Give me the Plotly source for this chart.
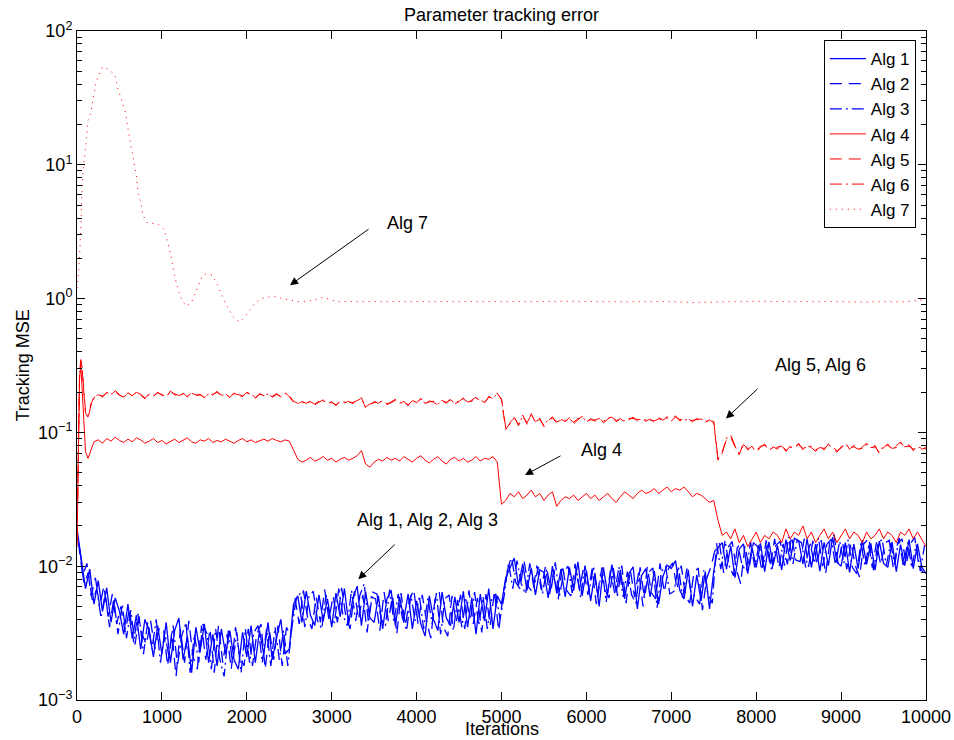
import math
import plotly.graph_objects as go

# ---------------------------------------------------------------- data
# Alg 1-3 (blue): tracking MSE sampled along the iterations
alg1_iters = list(range(0, 10001, 50))
alg1_mse = [
    0.019, 0.0110, 0.0068, 0.0095, 0.0052, 0.0078, 0.0046, 0.0069, 0.0038, 0.0058,
    0.0046, 0.0031, 0.0052, 0.0029, 0.0043, 0.0024, 0.0040, 0.0033, 0.0021, 0.0036,
    0.0022, 0.0038, 0.0019, 0.0033, 0.0041, 0.0020, 0.0030, 0.0016, 0.0035, 0.0023,
    0.0037, 0.0019, 0.0031, 0.0018, 0.0034, 0.0022, 0.0033, 0.0020, 0.0017, 0.0032,
    0.0021, 0.0036, 0.0019, 0.0033, 0.0022, 0.0038, 0.0020, 0.0029, 0.0040, 0.0022,
    0.0024, 0.0052, 0.0060, 0.0038, 0.0065, 0.0043, 0.0036, 0.0061, 0.0039, 0.0057,
    0.0035, 0.0063, 0.0042, 0.0068, 0.0037, 0.0058, 0.0071, 0.0036, 0.0064, 0.0041,
    0.0038, 0.0060, 0.0034, 0.0057, 0.0066, 0.0036, 0.0059, 0.0040, 0.0062, 0.0034,
    0.0055, 0.0037, 0.0030, 0.0060, 0.0040, 0.0033, 0.0064, 0.0041, 0.0036, 0.0059,
    0.0038, 0.0065, 0.0035, 0.0058, 0.0031, 0.0062, 0.0039, 0.0068, 0.0034, 0.0060,
    0.0052, 0.0082, 0.0098, 0.0115, 0.0072, 0.0104, 0.0066, 0.0097, 0.0061, 0.0094,
    0.0090, 0.0058, 0.0100, 0.0063, 0.0095, 0.0059, 0.0098, 0.0066, 0.0108, 0.0060,
    0.0093, 0.0055, 0.0089, 0.0050, 0.0098, 0.0062, 0.0103, 0.0064, 0.0094, 0.0057,
    0.0088, 0.0099, 0.0048, 0.0085, 0.0096, 0.0059, 0.0092, 0.0052, 0.0083, 0.0102,
    0.0096, 0.0110, 0.0066, 0.0057, 0.0094, 0.0050, 0.0086, 0.0055, 0.0091, 0.0048,
    0.0092, 0.0138, 0.0150, 0.0095, 0.0142, 0.0082, 0.0134, 0.0147, 0.0088, 0.0139,
    0.0098, 0.0148, 0.0091, 0.0152, 0.0102, 0.0143, 0.0094, 0.0158, 0.0110, 0.0162,
    0.0155, 0.0104, 0.0160, 0.0098, 0.0146, 0.0092, 0.0151, 0.0101, 0.0165, 0.0107,
    0.0100, 0.0150, 0.0090, 0.0146, 0.0096, 0.0157, 0.0103, 0.0148, 0.0094, 0.0154,
    0.0105, 0.0098, 0.0152, 0.0091, 0.0145, 0.0101, 0.0158, 0.0096, 0.0147, 0.0099,
    0.0088,
]

alg2_iters = list(range(17, 10000, 50))
alg2_mse = [
    0.0150, 0.0085, 0.0105, 0.0060, 0.0082, 0.0050, 0.0071, 0.0042, 0.0062, 0.0037,
    0.0050, 0.0032, 0.0048, 0.0027, 0.0044, 0.0031, 0.0026, 0.0039, 0.0024, 0.0034,
    0.0035, 0.0018, 0.0032, 0.0015, 0.0034, 0.0019, 0.0039, 0.0021, 0.0017, 0.0036,
    0.0020, 0.0034, 0.0016, 0.0036, 0.0019, 0.0031, 0.0017, 0.0035, 0.0021, 0.0018,
    0.0034, 0.0018, 0.0031, 0.0037, 0.0017, 0.0033, 0.0020, 0.0036, 0.0018, 0.0035,
    0.0030, 0.0058, 0.0037, 0.0066, 0.0041, 0.0034, 0.0059, 0.0038, 0.0067, 0.0040,
    0.0060, 0.0038, 0.0069, 0.0042, 0.0034, 0.0065, 0.0040, 0.0061, 0.0032, 0.0059,
    0.0057, 0.0033, 0.0064, 0.0039, 0.0060, 0.0031, 0.0063, 0.0036, 0.0056, 0.0067,
    0.0037, 0.0061, 0.0039, 0.0029, 0.0057, 0.0064, 0.0035, 0.0030, 0.0060, 0.0038,
    0.0061, 0.0034, 0.0066, 0.0037, 0.0058, 0.0032, 0.0062, 0.0036, 0.0065, 0.0033,
    0.0060, 0.0092, 0.0118, 0.0076, 0.0068, 0.0108, 0.0070, 0.0064, 0.0101, 0.0067,
    0.0099, 0.0062, 0.0094, 0.0056, 0.0102, 0.0066, 0.0060, 0.0104, 0.0067, 0.0097,
    0.0061, 0.0096, 0.0052, 0.0088, 0.0067, 0.0058, 0.0097, 0.0060, 0.0101, 0.0053,
    0.0094, 0.0059, 0.0091, 0.0050, 0.0099, 0.0063, 0.0057, 0.0105, 0.0064, 0.0096,
    0.0106, 0.0067, 0.0101, 0.0060, 0.0053, 0.0090, 0.0097, 0.0047, 0.0081, 0.0099,
    0.0133, 0.0148, 0.0089, 0.0138, 0.0153, 0.0094, 0.0074, 0.0143, 0.0097, 0.0150,
    0.0140, 0.0092, 0.0156, 0.0099, 0.0160, 0.0097, 0.0147, 0.0103, 0.0168, 0.0111,
    0.0108, 0.0161, 0.0099, 0.0155, 0.0102, 0.0157, 0.0087, 0.0149, 0.0172, 0.0103,
    0.0152, 0.0095, 0.0150, 0.0101, 0.0083, 0.0147, 0.0159, 0.0098, 0.0151, 0.0102,
    0.0149, 0.0156, 0.0095, 0.0150, 0.0160, 0.0103, 0.0147, 0.0164, 0.0100, 0.0090,
]

alg3_iters = list(range(33, 10000, 50))
alg3_mse = [
    0.0135, 0.0072, 0.0090, 0.0054, 0.0068, 0.0041, 0.0063, 0.0035, 0.0057, 0.0031,
    0.0052, 0.0029, 0.0047, 0.0026, 0.0042, 0.0022, 0.0038, 0.0024, 0.0040, 0.0019,
    0.0032, 0.0021, 0.0036, 0.0018, 0.0030, 0.0038, 0.0016, 0.0031, 0.0019, 0.0037,
    0.0031, 0.0017, 0.0034, 0.0020, 0.0015, 0.0033, 0.0019, 0.0032, 0.0016, 0.0034,
    0.0019, 0.0032, 0.0036, 0.0019, 0.0034, 0.0018, 0.0035, 0.0020, 0.0033, 0.0018,
    0.0036, 0.0057, 0.0063, 0.0035, 0.0059, 0.0065, 0.0039, 0.0034, 0.0061, 0.0040,
    0.0038, 0.0068, 0.0043, 0.0036, 0.0066, 0.0039, 0.0061, 0.0074, 0.0038, 0.0064,
    0.0062, 0.0040, 0.0036, 0.0067, 0.0038, 0.0062, 0.0041, 0.0033, 0.0061, 0.0039,
    0.0060, 0.0034, 0.0058, 0.0037, 0.0063, 0.0031, 0.0057, 0.0061, 0.0033, 0.0056,
    0.0035, 0.0058, 0.0040, 0.0064, 0.0036, 0.0059, 0.0034, 0.0057, 0.0062, 0.0040,
    0.0061, 0.0106, 0.0068, 0.0110, 0.0074, 0.0062, 0.0105, 0.0069, 0.0099, 0.0062,
    0.0096, 0.0066, 0.0107, 0.0060, 0.0090, 0.0100, 0.0063, 0.0096, 0.0058, 0.0101,
    0.0065, 0.0100, 0.0059, 0.0098, 0.0054, 0.0093, 0.0063, 0.0099, 0.0059, 0.0091,
    0.0061, 0.0053, 0.0098, 0.0058, 0.0090, 0.0097, 0.0049, 0.0091, 0.0100, 0.0062,
    0.0065, 0.0100, 0.0058, 0.0096, 0.0063, 0.0059, 0.0052, 0.0093, 0.0061, 0.0053,
    0.0148, 0.0095, 0.0156, 0.0100, 0.0085, 0.0146, 0.0102, 0.0092, 0.0152, 0.0098,
    0.0145, 0.0100, 0.0149, 0.0092, 0.0144, 0.0153, 0.0101, 0.0166, 0.0104, 0.0157,
    0.0150, 0.0098, 0.0151, 0.0105, 0.0163, 0.0100, 0.0146, 0.0159, 0.0103, 0.0154,
    0.0105, 0.0158, 0.0098, 0.0088, 0.0149, 0.0100, 0.0152, 0.0093, 0.0147, 0.0159,
    0.0101, 0.0148, 0.0103, 0.0163, 0.0099, 0.0151, 0.0097, 0.0145, 0.0092, 0.0143,
]

# Alg 4-6 (red): denser sampling over the start-up transient
red_iters = [0, 15, 30, 45, 60, 80, 100, 130, 165, 200] + list(range(250, 10001, 50))
alg4_mse = [
    0.014, 0.09, 0.25, 0.32, 0.22, 0.11, 0.072, 0.064, 0.074, 0.085,
    0.088, 0.083, 0.090, 0.086, 0.092, 0.087, 0.084, 0.089, 0.085, 0.091,
    0.088, 0.083, 0.086, 0.090, 0.084, 0.087, 0.082, 0.086, 0.089, 0.084,
    0.087, 0.091, 0.085, 0.083, 0.088, 0.086, 0.090, 0.084, 0.087, 0.085,
    0.089, 0.086, 0.083, 0.087, 0.090, 0.085, 0.088, 0.084, 0.087, 0.089,
    0.086, 0.090, 0.087, 0.085, 0.088, 0.086, 0.074, 0.063, 0.060, 0.062,
    0.065, 0.061, 0.063, 0.066, 0.062, 0.064, 0.060, 0.063, 0.065, 0.062,
    0.064, 0.067, 0.073, 0.058, 0.055, 0.060, 0.063, 0.061, 0.065, 0.062,
    0.064, 0.061, 0.066, 0.063, 0.060, 0.064, 0.067, 0.062, 0.059, 0.063,
    0.066, 0.061, 0.058, 0.063, 0.065, 0.061, 0.064, 0.060, 0.062, 0.066,
    0.061, 0.064, 0.063, 0.066, 0.060, 0.029, 0.031, 0.035, 0.033, 0.036,
    0.032, 0.034, 0.037, 0.033, 0.035, 0.031, 0.034, 0.036, 0.028, 0.031,
    0.033, 0.032, 0.034, 0.031, 0.033, 0.035, 0.032, 0.034, 0.031, 0.033,
    0.035, 0.032, 0.030, 0.033, 0.036, 0.034, 0.032, 0.035, 0.037, 0.035,
    0.036, 0.038, 0.035, 0.037, 0.039, 0.036, 0.038, 0.037, 0.039, 0.036,
    0.033, 0.035, 0.034, 0.032, 0.030, 0.031, 0.022, 0.017, 0.018, 0.016,
    0.019, 0.015, 0.017, 0.014, 0.016, 0.018, 0.015, 0.017, 0.016, 0.018,
    0.017, 0.015, 0.019, 0.016, 0.018, 0.017, 0.020, 0.016, 0.018, 0.015,
    0.017, 0.019, 0.016, 0.018, 0.015, 0.017, 0.019, 0.016, 0.018, 0.017,
    0.015, 0.018, 0.016, 0.017, 0.019, 0.016, 0.018, 0.017, 0.015, 0.018,
    0.017, 0.019, 0.016, 0.018, 0.016, 0.014,
]
alg5_mse = [
    0.016, 0.12, 0.28, 0.35, 0.30, 0.20, 0.14, 0.131, 0.165, 0.18,
    0.195, 0.183, 0.200, 0.188, 0.205, 0.192, 0.180, 0.198, 0.187, 0.202,
    0.190, 0.178, 0.196, 0.185, 0.200, 0.189, 0.182, 0.204, 0.191, 0.186,
    0.197, 0.184, 0.199, 0.188, 0.193, 0.181, 0.196, 0.190, 0.203, 0.187,
    0.194, 0.182, 0.198, 0.189, 0.185, 0.200, 0.191, 0.179, 0.195, 0.188,
    0.196, 0.183, 0.192, 0.187, 0.199, 0.185, 0.168, 0.162, 0.170, 0.165,
    0.172, 0.160, 0.168, 0.175, 0.163, 0.170, 0.158, 0.173, 0.166, 0.171,
    0.164, 0.176, 0.182, 0.152, 0.160, 0.170, 0.165, 0.174, 0.161, 0.169,
    0.177, 0.163, 0.171, 0.158, 0.175, 0.166, 0.180, 0.162, 0.172, 0.168,
    0.160, 0.174, 0.165, 0.178, 0.163, 0.170, 0.181, 0.166, 0.174, 0.183,
    0.170, 0.165, 0.186, 0.178, 0.197, 0.175, 0.105, 0.118, 0.132, 0.112,
    0.135, 0.115, 0.138, 0.118, 0.128, 0.110, 0.122, 0.131, 0.117, 0.126,
    0.120, 0.129, 0.116, 0.124, 0.132, 0.119, 0.127, 0.121, 0.130, 0.118,
    0.125, 0.133, 0.120, 0.127, 0.119, 0.124, 0.130, 0.122, 0.128, 0.121,
    0.126, 0.119, 0.129, 0.123, 0.131, 0.125, 0.133, 0.122, 0.128, 0.126,
    0.120, 0.127, 0.123, 0.119, 0.124, 0.118, 0.062, 0.072, 0.088, 0.095,
    0.080, 0.068, 0.083, 0.074, 0.079, 0.071, 0.077, 0.082, 0.073, 0.078,
    0.075, 0.081, 0.072, 0.079, 0.076, 0.083, 0.074, 0.080, 0.077, 0.072,
    0.079, 0.074, 0.082, 0.076, 0.071, 0.078, 0.084, 0.075, 0.080, 0.073,
    0.078, 0.083, 0.075, 0.080, 0.069, 0.077, 0.082, 0.074, 0.079, 0.085,
    0.076, 0.081, 0.073, 0.079, 0.075, 0.077,
]
alg6_mse = [
    0.015, 0.11, 0.27, 0.34, 0.31, 0.21, 0.145, 0.128, 0.16, 0.185,
    0.191, 0.187, 0.197, 0.193, 0.201, 0.189, 0.184, 0.195, 0.190, 0.199,
    0.193, 0.181, 0.192, 0.188, 0.197, 0.192, 0.185, 0.200, 0.194, 0.189,
    0.193, 0.187, 0.196, 0.191, 0.190, 0.184, 0.193, 0.193, 0.199, 0.190,
    0.191, 0.185, 0.195, 0.192, 0.188, 0.197, 0.194, 0.182, 0.192, 0.191,
    0.193, 0.186, 0.195, 0.184, 0.196, 0.188, 0.171, 0.165, 0.167, 0.168,
    0.169, 0.163, 0.171, 0.172, 0.166, 0.167, 0.161, 0.170, 0.169, 0.168,
    0.167, 0.173, 0.179, 0.155, 0.163, 0.167, 0.168, 0.171, 0.164, 0.166,
    0.174, 0.166, 0.168, 0.161, 0.172, 0.169, 0.177, 0.165, 0.169, 0.171,
    0.163, 0.171, 0.168, 0.175, 0.166, 0.173, 0.178, 0.169, 0.171, 0.180,
    0.173, 0.168, 0.183, 0.181, 0.194, 0.178, 0.108, 0.115, 0.129, 0.115,
    0.132, 0.118, 0.135, 0.121, 0.125, 0.113, 0.125, 0.128, 0.120, 0.123,
    0.123, 0.126, 0.119, 0.127, 0.129, 0.122, 0.124, 0.124, 0.127, 0.121,
    0.128, 0.130, 0.123, 0.124, 0.122, 0.127, 0.127, 0.125, 0.125, 0.124,
    0.123, 0.122, 0.126, 0.126, 0.128, 0.122, 0.130, 0.125, 0.125, 0.123,
    0.123, 0.124, 0.126, 0.122, 0.121, 0.121, 0.064, 0.070, 0.091, 0.092,
    0.078, 0.070, 0.081, 0.076, 0.077, 0.073, 0.079, 0.080, 0.075, 0.076,
    0.077, 0.079, 0.074, 0.077, 0.078, 0.081, 0.076, 0.078, 0.079, 0.074,
    0.077, 0.076, 0.080, 0.078, 0.073, 0.076, 0.082, 0.077, 0.078, 0.075,
    0.076, 0.081, 0.077, 0.078, 0.071, 0.079, 0.080, 0.076, 0.077, 0.083,
    0.078, 0.079, 0.075, 0.077, 0.077, 0.075,
]

# Alg 7 (red dotted): large overshoot, then settles near 1
alg7_iters = [
    0, 20, 35, 55, 70, 94, 114, 130, 161, 177, 188, 220, 247, 303, 318,
    389, 448, 483, 515, 542, 574, 601, 633, 656, 683, 703, 719, 750, 777, 821,
    954, 1025, 1072, 1115, 1143, 1190, 1245, 1292, 1351, 1410, 1469, 1528, 1587, 1645, 1720,
    1802, 1861, 1920, 1979, 2038, 2097, 2191, 2309, 2426, 2591, 2709, 2840, 2900, 3060,
] + list(range(3250, 10001, 250))
alg7_mse = [
    1.2, 1.6, 2.4, 5.1, 9.1, 12, 16, 21.6, 24.3, 28.3, 32, 40, 46, 53.8, 53.8,
    51, 46, 36.8, 32, 27.9, 24.3, 18.5, 13.8, 11.8, 9.4, 8.1, 6.1, 5.3, 4.2, 3.7,
    3.6, 3.3, 2.6, 1.94, 1.55, 1.16, 0.946, 0.88, 0.946, 1.16, 1.45, 1.54, 1.50, 1.31, 1.01,
    0.80, 0.70, 0.67, 0.73, 0.82, 0.93, 1.01, 1.04, 1.0, 0.95, 0.95, 1.0, 1.02, 0.95,
    0.95, 0.94, 0.95, 0.95, 0.94, 0.95, 0.945, 0.95, 0.94, 0.95, 0.955, 0.95, 0.94, 0.945,
    0.95, 0.95, 0.935, 0.945, 0.95, 0.955, 0.95, 0.945, 0.95, 0.95, 0.94, 0.95, 0.945, 0.98,
]

x_tick_vals = list(range(0, 10001, 1000))
x_tick_text = [str(v) for v in x_tick_vals]
y_tick_vals = [1e-3, 1e-2, 1e-1, 1e0, 1e1, 1e2]
y_tick_text = ["10<sup>−3</sup>", "10<sup>−2</sup>", "10<sup>−1</sup>",
               "10<sup>0</sup>", "10<sup>1</sup>", "10<sup>2</sup>"]
y_minor_vals = [m * d for d in (1e-3, 1e-2, 1e-1, 1e0, 1e1) for m in range(2, 10)]

# ---------------------------------------------------------------- figure
FONT = "Liberation Sans, Arial, Helvetica, sans-serif"
BLUE = "#0000FF"
RED = "#FF0000"
DASH = "12px,7px"
DASHDOT = "12px,4px,2px,4px"

series = [
    ("Alg 1", alg1_iters, alg1_mse, BLUE, "solid", 1.3),
    ("Alg 2", alg2_iters, alg2_mse, BLUE, DASH, 1.3),
    ("Alg 3", alg3_iters, alg3_mse, BLUE, DASHDOT, 1.3),
    ("Alg 4", red_iters, alg4_mse, RED, "solid", 1),
    ("Alg 5", red_iters, alg5_mse, RED, DASH, 1),
    ("Alg 6", red_iters, alg6_mse, RED, DASHDOT, 1),
    ("Alg 7", alg7_iters, alg7_mse, RED, "1px,5px", 1),
]

fig = go.Figure()
for name, xs, ys, color, dash, lw in series:
    fig.add_trace(go.Scatter(
        x=xs, y=ys, name=name, mode="lines",
        line=dict(color=color, width=lw, dash=dash),
    ))

fig.update_layout(
    width=954, height=740,
    margin=dict(l=77, r=28, t=31, b=40, autoexpand=False),
    paper_bgcolor="white", plot_bgcolor="white",
    font=dict(family=FONT, size=18, color="black"),
    title=dict(text="Parameter tracking error", x=0.5, xref="paper",
               xanchor="center", y=1 - 15 / 740, yanchor="middle",
               font=dict(size=18, color="black")),
    showlegend=True,
    legend=dict(x=0.988, y=0.9865, xanchor="right", yanchor="top",
                bgcolor="white", bordercolor="black", borderwidth=1,
                font=dict(size=17), tracegroupgap=0, itemwidth=36),
)

fig.update_xaxes(
    range=[0, 10000], tickmode="array", tickvals=x_tick_vals, ticktext=x_tick_text,
    ticks="inside", ticklen=8, tickcolor="black", tickwidth=1,
    showline=True, linecolor="black", linewidth=1, mirror="ticks",
    showgrid=False, zeroline=False, tickfont=dict(size=18),
)
fig.update_yaxes(
    type="log", range=[-3, 2], tickmode="array",
    tickvals=y_tick_vals, ticktext=y_tick_text,
    ticks="inside", ticklen=8, tickcolor="black", tickwidth=1,
    minor=dict(tickmode="array", tickvals=y_minor_vals, ticks="inside",
               ticklen=5, tickcolor="black", tickwidth=1, showgrid=False),
    showline=True, linecolor="black", linewidth=1, mirror="ticks",
    showgrid=False, zeroline=False, tickfont=dict(size=18),
)

# axis titles
fig.add_annotation(text="Iterations", xref="paper", yref="paper",
                   x=0.5, y=-29 / 669, xanchor="center", yanchor="middle",
                   showarrow=False, font=dict(size=18))
fig.add_annotation(text="Tracking MSE", xref="paper", yref="paper",
                   x=-55 / 849, y=0.5, xanchor="center", yanchor="middle",
                   textangle=-90, showarrow=False, font=dict(size=18))

# callouts: arrow tip in data coordinates (log10 for y), tail offset in px
arrows = [
    (2509, 1.26, 80, -57),
    (7644, 0.127, 33, -31),
    (5277, 0.048, 37, -20),
    (3313, 0.0080, 38, -36),
]
for ax_it, val, dx, dy in arrows:
    fig.add_annotation(x=ax_it, y=math.log10(val), xref="x", yref="y",
                       text="", showarrow=True, ax=dx, ay=dy,
                       arrowhead=2, arrowsize=1.6, arrowwidth=1,
                       arrowcolor="black")

labels = [
    ("Alg 7", 3887, 0.564),
    ("Alg 5, Alg 6", 8763, -0.497),
    ("Alg 4", 6172, -1.132),
    ("Alg 1, Alg 2, Alg 3", 4134, -1.655),
]
for txt, lx, ly in labels:
    fig.add_annotation(x=lx, y=ly, xref="x", yref="y", text=txt,
                       showarrow=False, xanchor="center", yanchor="middle",
                       font=dict(size=18))

fig.write_html("out.html")
